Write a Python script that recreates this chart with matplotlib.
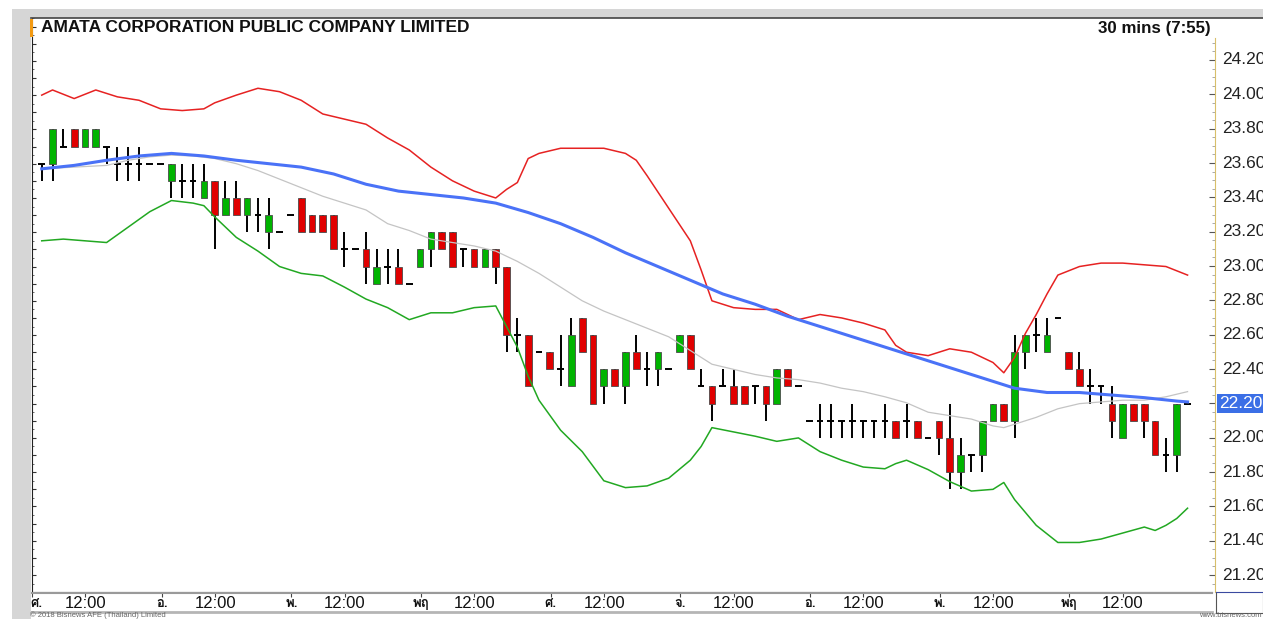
import numpy as np
import matplotlib
matplotlib.use('Agg')
import matplotlib.pyplot as plt
from matplotlib import font_manager
from matplotlib.ft2font import FT2Font
from matplotlib.patches import Rectangle
from matplotlib.lines import Line2D

title = 'AMATA CORPORATION PUBLIC COMPANY LIMITED'
interval = '30 mins (7:55)'
last_price = 22.20

# 30-minute candles, 12 bars per day
opens = [23.6, 23.6, 23.7, 23.8, 23.7, 23.7, 23.7, 23.6, 23.6, 23.6, 23.6, 23.6,
         23.5, 23.5, 23.5, 23.4, 23.5, 23.3, 23.4, 23.3, 23.3, 23.2, 23.2, 23.3,
         23.4, 23.3, 23.3, 23.3, 23.1, 23.1, 23.1, 22.9, 23.0, 23.0, 22.9, 23.0,
         23.1, 23.2, 23.2, 23.1, 23.1, 23.0, 23.1, 23.0, 22.6, 22.6, 22.5, 22.5,
         22.4, 22.3, 22.7, 22.6, 22.3, 22.4, 22.3, 22.5, 22.4, 22.4, 22.4, 22.5,
         22.6, 22.3, 22.3, 22.3, 22.3, 22.3, 22.3, 22.3, 22.2, 22.4, 22.3, 22.1,
         22.1, 22.1, 22.1, 22.1, 22.1, 22.1, 22.1, 22.1, 22.1, 22.1, 22.0, 22.1,
         22.0, 21.8, 21.9, 21.9, 22.1, 22.2, 22.1, 22.5, 22.6, 22.5, 22.7, 22.5,
         22.4, 22.3, 22.3, 22.2, 22.0, 22.2, 22.2, 22.1, 21.9, 21.9, 22.2]
highs = [23.6, 23.8, 23.8, 23.8, 23.8, 23.8, 23.7, 23.7, 23.7, 23.7, 23.6, 23.6,
         23.6, 23.6, 23.6, 23.6, 23.5, 23.5, 23.5, 23.4, 23.4, 23.4, 23.2, 23.3,
         23.4, 23.3, 23.3, 23.3, 23.2, 23.1, 23.2, 23.1, 23.1, 23.1, 22.9, 23.1,
         23.2, 23.2, 23.2, 23.1, 23.1, 23.1, 23.1, 23.0, 22.7, 22.6, 22.5, 22.5,
         22.6, 22.7, 22.7, 22.6, 22.4, 22.4, 22.5, 22.6, 22.5, 22.5, 22.4, 22.6,
         22.6, 22.4, 22.3, 22.4, 22.4, 22.3, 22.3, 22.3, 22.4, 22.4, 22.3, 22.1,
         22.2, 22.2, 22.1, 22.2, 22.1, 22.1, 22.2, 22.1, 22.2, 22.1, 22.0, 22.1,
         22.2, 22.0, 21.9, 22.1, 22.2, 22.2, 22.6, 22.6, 22.7, 22.7, 22.7, 22.5,
         22.5, 22.4, 22.3, 22.3, 22.2, 22.2, 22.2, 22.1, 22.0, 22.2, 22.2]
lows = [23.5, 23.5, 23.7, 23.7, 23.7, 23.7, 23.6, 23.5, 23.5, 23.5, 23.6, 23.6,
        23.4, 23.4, 23.4, 23.4, 23.1, 23.3, 23.3, 23.2, 23.2, 23.1, 23.2, 23.3,
        23.2, 23.2, 23.2, 23.1, 23.0, 23.1, 22.9, 22.9, 22.9, 22.9, 22.9, 23.0,
        23.0, 23.1, 23.0, 23.0, 23.0, 23.0, 22.9, 22.5, 22.5, 22.3, 22.5, 22.4,
        22.3, 22.3, 22.5, 22.2, 22.2, 22.3, 22.2, 22.4, 22.3, 22.3, 22.4, 22.5,
        22.4, 22.3, 22.1, 22.3, 22.2, 22.2, 22.2, 22.1, 22.2, 22.3, 22.3, 22.1,
        22.0, 22.0, 22.0, 22.0, 22.0, 22.0, 22.0, 22.0, 22.0, 22.0, 22.0, 21.9,
        21.7, 21.7, 21.8, 21.8, 22.1, 22.1, 22.0, 22.4, 22.5, 22.5, 22.7, 22.4,
        22.3, 22.2, 22.2, 22.0, 22.0, 22.1, 22.0, 21.9, 21.8, 21.8, 22.2]
closes = [23.6, 23.8, 23.7, 23.7, 23.8, 23.8, 23.7, 23.6, 23.6, 23.6, 23.6, 23.6,
          23.6, 23.5, 23.5, 23.5, 23.3, 23.4, 23.3, 23.4, 23.3, 23.3, 23.2, 23.3,
          23.2, 23.2, 23.2, 23.1, 23.1, 23.1, 23.0, 23.0, 23.0, 22.9, 22.9, 23.1,
          23.2, 23.1, 23.0, 23.1, 23.0, 23.1, 23.0, 22.6, 22.6, 22.3, 22.5, 22.4,
          22.4, 22.6, 22.5, 22.2, 22.4, 22.3, 22.5, 22.4, 22.4, 22.5, 22.4, 22.6,
          22.4, 22.3, 22.2, 22.3, 22.2, 22.2, 22.3, 22.2, 22.4, 22.3, 22.3, 22.1,
          22.1, 22.1, 22.1, 22.1, 22.1, 22.1, 22.1, 22.0, 22.1, 22.0, 22.0, 22.0,
          21.8, 21.9, 21.9, 22.1, 22.2, 22.1, 22.5, 22.6, 22.6, 22.6, 22.7, 22.4,
          22.3, 22.3, 22.3, 22.1, 22.2, 22.1, 22.1, 21.9, 21.9, 22.2, 22.2]

# Bollinger bands and moving averages (bar index, value)
upper_idx = [0, 1, 3, 5, 7, 9, 11, 13, 15, 16, 18, 20, 22, 24, 26, 28, 30, 32, 34,
             36, 38, 40, 42, 43, 44, 45, 46, 48, 50, 52, 54, 55, 56, 58, 60, 61,
             62, 64, 66, 68, 70, 72, 74, 76, 78, 79, 80, 82, 84, 86, 88, 89, 90,
             91, 92, 93, 94, 96, 98, 100, 102, 104, 106]
upper = [24.00, 24.03, 23.98, 24.03, 23.99, 23.97, 23.92, 23.91, 23.92, 23.955,
         24.00, 24.04, 24.02, 23.97, 23.89, 23.86, 23.83, 23.75, 23.68, 23.58,
         23.50, 23.44, 23.40, 23.45, 23.49, 23.63, 23.66, 23.69, 23.69, 23.69,
         23.66, 23.62, 23.53, 23.34, 23.15, 22.98, 22.80, 22.76, 22.75, 22.75,
         22.69, 22.72, 22.70, 22.67, 22.63, 22.54, 22.50, 22.48, 22.52, 22.50,
         22.44, 22.38, 22.47, 22.61, 22.72, 22.84, 22.95, 23.00, 23.02, 23.02,
         23.01, 23.00, 22.95]
lower_idx = [0, 2, 4, 6, 8, 10, 12, 14, 15, 16, 18, 20, 22, 24, 26, 28, 30, 32,
             34, 36, 38, 40, 42, 43, 44, 45, 46, 48, 50, 52, 54, 56, 58, 60, 61,
             62, 64, 66, 68, 70, 72, 74, 76, 78, 79, 80, 82, 84, 86, 88, 89, 90,
             92, 94, 96, 98, 100, 102, 103, 104, 105, 106]
lower = [23.15, 23.16, 23.15, 23.14, 23.23, 23.32, 23.385, 23.37, 23.355, 23.29,
         23.17, 23.09, 23.00, 22.96, 22.945, 22.88, 22.81, 22.76, 22.69, 22.73,
         22.73, 22.76, 22.77, 22.65, 22.53, 22.36, 22.22, 22.045, 21.92, 21.75,
         21.71, 21.72, 21.765, 21.87, 21.95, 22.06, 22.035, 22.01, 21.98, 22.00,
         21.92, 21.87, 21.83, 21.82, 21.85, 21.87, 21.815, 21.745, 21.69, 21.70,
         21.74, 21.64, 21.49, 21.39, 21.39, 21.41, 21.445, 21.48, 21.46, 21.49,
         21.53, 21.59]
mid_idx = [0, 3, 6, 8, 10, 12, 14, 16, 18, 20, 22, 24, 26, 28, 30, 32, 34, 36, 38,
           40, 42, 44, 46, 48, 50, 52, 54, 56, 58, 60, 62, 64, 66, 68, 70, 72, 74,
           76, 78, 80, 82, 84, 86, 88, 89, 90, 92, 94, 96, 98, 100, 102, 104, 106]
middle = [23.57, 23.58, 23.59, 23.62, 23.64, 23.65, 23.645, 23.63, 23.60, 23.56,
          23.51, 23.46, 23.41, 23.37, 23.33, 23.25, 23.21, 23.16, 23.14, 23.12,
          23.09, 23.03, 22.96, 22.88, 22.80, 22.74, 22.69, 22.64, 22.59, 22.51,
          22.43, 22.40, 22.37, 22.35, 22.34, 22.32, 22.29, 22.27, 22.24, 22.205,
          22.15, 22.13, 22.11, 22.07, 22.06, 22.08, 22.12, 22.17, 22.20, 22.21,
          22.22, 22.22, 22.24, 22.27]
ma_idx = [0, 3, 6, 9, 12, 15, 18, 21, 24, 27, 30, 33, 36, 39, 42, 45, 48, 51, 54,
          57, 60, 63, 66, 69, 72, 75, 78, 81, 84, 87, 90, 93, 96, 99, 102, 105, 106]
ma_long = [23.57, 23.59, 23.62, 23.645, 23.66, 23.645, 23.62, 23.60, 23.58, 23.54,
           23.48, 23.44, 23.42, 23.40, 23.37, 23.315, 23.25, 23.17, 23.08, 23.00,
           22.92, 22.84, 22.78, 22.71, 22.65, 22.59, 22.53, 22.47, 22.41, 22.35,
           22.29, 22.265, 22.265, 22.25, 22.235, 22.215, 22.21]

price_ticks = [24.2, 24.0, 23.8, 23.6, 23.4, 23.2, 23.0, 22.8, 22.6, 22.4, 22.0,
               21.8, 21.6, 21.4, 21.2]
day_labels = ['ศ.', 'อ.', 'พ.', 'พฤ', 'ศ.', 'จ.', 'อ.', 'พ.', 'พฤ']
bars_per_day = 12


def thai_font():
    for f in font_manager.fontManager.ttflist:
        try:
            if FT2Font(f.fname).get_char_index(ord('ศ')):
                return f.name
        except Exception:
            continue
    return 'DejaVu Sans'


plt.rcParams['font.family'] = ['Liberation Sans', 'DejaVu Sans']
thai = thai_font()

W, H = 1263, 619


def box(x0, y0, x1, y1):
    # pixel box (y from top) -> figure fraction rect
    return [x0 / W, 1 - y1 / H, (x1 - x0) / W, (y1 - y0) / H]


fig = plt.figure(figsize=(W / 100, H / 100), dpi=100)
fig.patch.set_facecolor('white')

# grey frame strips
fig.patches.append(Rectangle((12 / W, 0), 19 / W, 1 - 9 / H, transform=fig.transFigure,
                             fc='#d6d6d6', ec='none', zorder=0))
fig.patches.append(Rectangle((12 / W, 1 - 18 / H), 1, 9 / H, transform=fig.transFigure,
                             fc='#d6d6d6', ec='none', zorder=0))
fig.lines.append(Line2D([31 / W, 1], [1 - 18 / H] * 2, transform=fig.transFigure,
                        color='#444444', lw=1.2))

xlim = (-0.9, 108.26)
ylim = (21.101, 24.445)

ax = fig.add_axes(box(32, 18, 1212, 592))
ax.set_xlim(*xlim)
ax.set_ylim(*ylim)
for s in ['top', 'right']:
    ax.spines[s].set_visible(False)
ax.spines['left'].set_color('#222222')
ax.spines['bottom'].set_color('#333333')
ax.set_xticks([])
ax.set_yticks(np.arange(21.2, 24.45, 0.1))
ax.set_yticks(np.arange(21.15, 24.45, 0.05), minor=True)
ax.tick_params(axis='y', which='major', direction='in', length=3, width=0.8,
               labelleft=False, color='#333333')
ax.tick_params(axis='y', which='minor', direction='in', length=1.5, width=0.6,
               color='#555555')

x = np.arange(len(opens))
o, h, l, c = (np.array(v) for v in (opens, highs, lows, closes))
up = c > o + 1e-9
dn = c < o - 1e-9
flat = ~(up | dn)
bw = 0.62

ax.vlines(x, l, h, color='black', lw=1.4, zorder=3)
ax.bar(x[up], (c - o)[up], bottom=o[up], width=bw, color='#00b400',
       edgecolor='#4a4a4a', lw=0.6, zorder=4)
ax.bar(x[dn], (o - c)[dn], bottom=c[dn], width=bw, color='#e00000',
       edgecolor='#4a4a4a', lw=0.6, zorder=4)
ax.hlines(o[flat], x[flat] - bw / 2, x[flat] + bw / 2, color='black', lw=1.4, zorder=4)

ax.plot(mid_idx, middle, color='#c4c4c4', lw=0.9, zorder=5)
ax.plot(upper_idx, upper, color='#e62222', lw=1.1, zorder=5)
ax.plot(lower_idx, lower, color='#22a822', lw=1.1, zorder=5)
ax.plot(ma_idx, ma_long, color='#4a72f7', lw=2.2, zorder=6)

fig.patches.append(Rectangle((30 / W, 1 - 37 / H), 3 / W, 18 / H, transform=fig.transFigure,
                             fc='#f39a12', ec='none', zorder=3))
fig.text(41 / W, 1 - 28 / H, title, fontsize=12.5, fontweight='bold', va='center',
         ha='left', color='#111111')
fig.text(1211 / W, 1 - 28 / H, interval, fontsize=12.2, fontweight='bold', va='center',
         ha='right', color='#111111')

# right price scale
rax = fig.add_axes(box(1215, 38, 1263, 592))
rax.set_ylim(ylim[0], 24.2 + 22 / 171.67)
rax.set_xlim(0, 1)
for s in ['top', 'right', 'bottom']:
    rax.spines[s].set_visible(False)
rax.spines['left'].set_linestyle((0, (1, 1)))
rax.spines['left'].set_color('#d8bf6a')
rax.set_xticks([])
rax.set_yticks(np.arange(21.2, 24.25, 0.2))
rax.set_yticks(np.arange(21.15, 24.3, 0.05), minor=True)
rax.tick_params(axis='y', which='major', direction='out', length=4, width=0.8,
                labelleft=False, color='#555555')
rax.tick_params(axis='y', which='minor', direction='out', length=2, width=0.5,
                color='#888888')
for p in price_ticks:
    rax.text(7 / 48, p, f'{p:.2f}', fontsize=12.5, ha='left', va='center',
             color='#222222', clip_on=False)
rax.text(4 / 48, last_price, f'{last_price:.2f}', fontsize=12.5, ha='left', va='center',
         color='white', clip_on=False,
         bbox=dict(boxstyle='square,pad=0.12', fc='#3b6fe6', ec='none'))

# date strip
dax = fig.add_axes(box(32, 593, 1212, 612))
dax.set_xlim(*xlim)
dax.set_ylim(0, 1)
dax.set_yticks([])
for s in ['left', 'right']:
    dax.spines[s].set_visible(False)
dax.spines['top'].set_color('#9a9a9a')
dax.spines['top'].set_linewidth(1.5)
dax.spines['bottom'].set_color('#b5b5b5')
dax.spines['bottom'].set_linewidth(2)
day_pos = [k * bars_per_day - 0.95 for k in range(len(day_labels))]
noon_pos = [k * bars_per_day + 4 for k in range(len(day_labels))]
dax.set_xticks(day_pos + noon_pos)
dax.tick_params(axis='x', direction='in', length=3, width=0.8, color='#444444',
                labelbottom=False, top=True, bottom=False)
for pos, lab in zip(day_pos, day_labels):
    dax.text(max(pos, -0.5), 0.42, lab, family=[thai, 'DejaVu Sans'], fontsize=9.5,
             fontweight='bold', ha='center', va='center', color='#111111')
for pos in noon_pos:
    dax.text(pos, 0.45, '12:00', fontsize=12, ha='center', va='center', color='#111111')

bx = fig.add_axes(box(1216, 592, 1263, 613))
bx.set_xticks([])
bx.set_yticks([])
for s in bx.spines.values():
    s.set_color('#555555')
bx.spines['top'].set_color('#3a4aa0')

fig.text(30 / W, 1 - 615.5 / H, '© 2018 Bisnews AFE (Thailand) Limited', fontsize=5.5,
         color='#666666', ha='left', va='center')
fig.text(1262 / W, 1 - 615.5 / H, 'www.bisnews.com', fontsize=5.5,
         color='#666666', ha='right', va='center')

fig.savefig('out.png', dpi=100, facecolor='white')
